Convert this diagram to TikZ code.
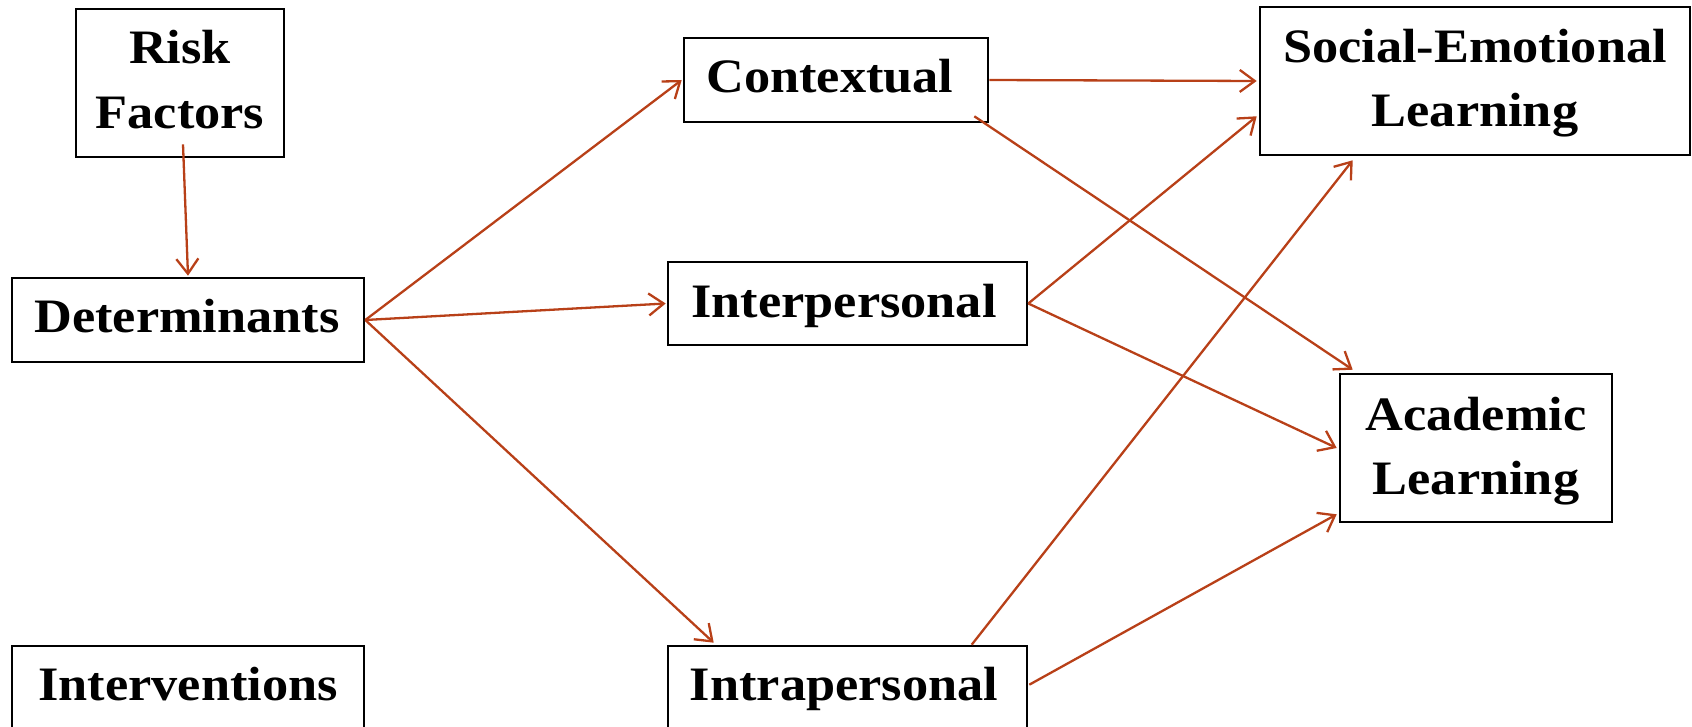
\documentclass[tikz,border=0pt]{standalone}
\usepackage{fontspec}
\setmainfont{Liberation Serif}[FakeStretch=1.09]
\usetikzlibrary{arrows.meta,calc}
\definecolor{arr}{RGB}{184,64,24}
\tikzset{
  box/.style={draw=black, line width=2.6pt, rectangle, inner sep=0pt},
  lbl/.style={anchor=base, inner sep=0pt, font=\fontsize{48}{58}\selectfont\bfseries},
  link/.style={draw=arr, line width=2.3pt, -{Straight Barb[length=15pt,width=22pt]}},
}
\begin{document}
\begin{tikzpicture}[x=1pt,y=-1pt]
\useasboundingbox (0,0) rectangle (1692,727);
\clip (0,0) rectangle (1692,727);
% boxes
\node[box, minimum width=208pt, minimum height=148pt] (rf) at (180,83) {};
\node[box, minimum width=352pt, minimum height=84pt] (det) at (188,320) {};
\node[box, minimum width=352pt, minimum height=134pt] (intv) at (188,713) {};
\node[box, minimum width=304pt, minimum height=84pt] (ctx) at (836,80) {};
\node[box, minimum width=359pt, minimum height=83pt] (inter) at (847.5,303.5) {};
\node[box, minimum width=359pt, minimum height=134pt] (intra) at (847.5,713) {};
\node[box, minimum width=430pt, minimum height=148pt] (sel) at (1475,81) {};
\node[box, minimum width=272pt, minimum height=148pt] (acad) at (1476,448) {};
% labels
\node[lbl] (rf1) at (180,64) {Risk};
\node[lbl] (rf2) at (180,129) {Factors};
\node[lbl] (detl) at (187,333) {Determinants};
\node[lbl] (intvl) at (188,700) {Interventions};
\node[lbl] (ctxl) at (830,93) {Contextual};
\node[lbl] (interl) at (844,317) {Interpersonal};
\node[lbl] (intral) at (844,700) {Intrapersonal};
\node[lbl] (sel1) at (1475,63) {Social-Emotional};
\node[lbl] (sel2) at (1475,127) {Learning};
\node[lbl] (acad1) at (1476,430) {Academic};
\node[lbl] (acad2) at (1476,494) {Learning};
% connectors
\draw[link] ($(rf.south)+(3,-14)$) -- ($(det.north)+(0,-1)$);
\draw[link] (det.east) -- ($(ctx.west)+(-1,0)$);
\draw[link] (det.east) -- ($(inter.west)+(-1,0)$);
\draw[link] (det.east) -- ($(intra.north west)+(47,-2)$);
\draw[link] (ctx.east) -- ($(sel.west)+(-2,0)$);
\draw[link] ($(ctx.south east)+(-15,-7)$) -- ($(acad.north west)+(14,-3)$);
\draw[link] (inter.east) -- ($(sel.south west)+(-2,-40)$);
\draw[link] (inter.east) -- ($(acad.west)+(-2,0)$);
\draw[link] ($(intra.north west)+(305,0)$) -- ($(sel.south west)+(94,4)$);
\draw[link] ($(intra.north east)+(1,40)$) -- ($(acad.south west)+(-2,-9)$);
\end{tikzpicture}
\end{document}
